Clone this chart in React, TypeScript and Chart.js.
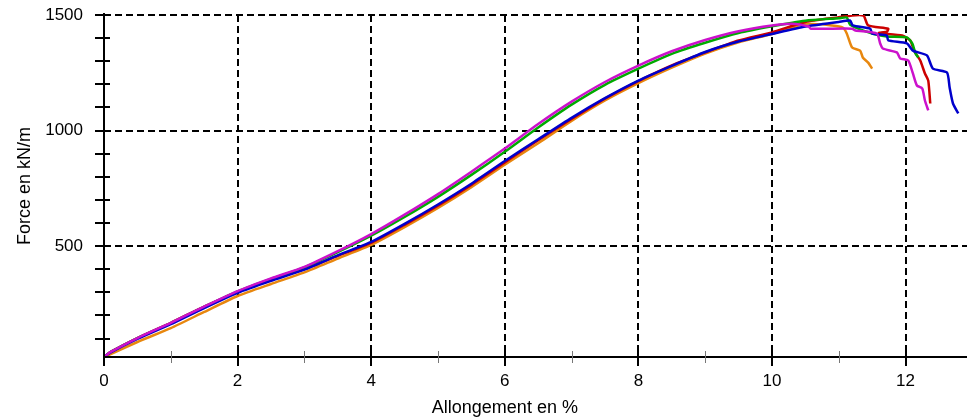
import React, { useEffect, useRef } from "react";
import { Chart, registerables } from "chart.js";

Chart.register(...registerables);

// ---- Axis ranges and ticks ----
const xMin = 0;
const xMax = 12.92;
const yMin = 20;
const yMax = 1500;
const xTickValues = [0, 1, 2, 3, 4, 5, 6, 7, 8, 9, 10, 11, 12];
const xTickLabels = ["0", "", "2", "", "4", "", "6", "", "8", "", "10", "", "12"];
const yTickValues = [100, 200, 300, 400, 500, 600, 700, 800, 900, 1000, 1100, 1200, 1300, 1400, 1500];
const yLabelled = [500, 1000, 1500];
const xTitle = "Allongement en %";
const yTitle = "Force en kN/m";

// ---- Series (x = Allongement %, y = Force kN/m) ----
const magentaX = [0, 0.1, 0.5, 1, 1.5, 2, 2.5, 3, 3.5, 4, 4.5, 5, 5.5, 6, 6.5, 7, 7.5, 8, 8.5, 9, 9.5, 10, 10.3, 10.55, 10.58, 11.2, 11.25, 11.57, 11.62, 11.66, 11.87, 11.92, 12.04, 12.11, 12.17, 12.25, 12.29, 12.34];
const magentaY = [20, 42, 102, 168, 238, 305, 360, 410, 478, 552, 636, 725, 822, 922, 1028, 1125, 1210, 1281, 1343, 1392, 1430, 1455, 1462, 1450, 1441, 1441, 1433, 1420, 1377, 1355, 1338, 1312, 1303, 1247, 1195, 1182, 1130, 1087];

const blueX = [0, 0.1, 0.5, 1, 1.5, 2, 2.5, 3, 3.5, 4, 4.5, 5, 5.5, 6, 6.5, 7, 7.5, 8, 8.5, 9, 9.5, 10, 10.5, 11, 11.17, 11.21, 11.47, 11.5, 11.72, 11.74, 12.02, 12.11, 12.32, 12.41, 12.62, 12.66, 12.71, 12.79];
const blueY = [20, 40, 98, 162, 232, 298, 350, 398, 460, 518, 596, 680, 770, 868, 962, 1055, 1140, 1216, 1280, 1340, 1385, 1418, 1450, 1470, 1476, 1455, 1441, 1420, 1411, 1390, 1377, 1346, 1325, 1268, 1251, 1186, 1117, 1074];

const greenX = [0, 0.1, 0.5, 1, 1.5, 2, 2.5, 3, 3.5, 4, 4.5, 5, 5.5, 6, 6.5, 7, 7.5, 8, 8.5, 9, 9.5, 10, 10.5, 11, 11.12, 11.17, 11.5, 11.72, 12.02, 12.1, 12.15, 12.19];
const greenY = [20, 42, 102, 167, 237, 304, 358, 408, 474, 545, 626, 713, 808, 908, 1013, 1112, 1198, 1268, 1332, 1380, 1422, 1451, 1475, 1486, 1489, 1458, 1420, 1407, 1403, 1377, 1333, 1316];

const redX = [0, 0.1, 0.5, 1, 1.5, 2, 2.5, 3, 3.5, 4, 4.5, 5, 5.5, 6, 6.5, 7, 7.5, 8, 8.5, 9, 9.5, 10, 10.5, 11, 11.2, 11.37, 11.44, 11.74, 11.72, 11.6, 11.95, 12.07, 12.11, 12.14, 12.22, 12.29, 12.34, 12.37];
const redY = [20, 42, 102, 168, 238, 302, 352, 400, 458, 514, 592, 675, 765, 862, 958, 1050, 1138, 1214, 1282, 1338, 1390, 1425, 1470, 1490, 1498, 1498, 1455, 1441, 1428, 1422, 1411, 1390, 1360, 1339, 1303, 1247, 1216, 1117];

const orangeX = [0, 0.1, 0.5, 1, 1.5, 2, 2.5, 3, 3.5, 4, 4.5, 5, 5.5, 6, 6.5, 7, 7.5, 8, 8.5, 9, 9.5, 10, 10.5, 10.9, 11.06, 11.12, 11.2, 11.32, 11.36, 11.44, 11.5];
const orangeY = [15, 32, 85, 145, 215, 284, 336, 386, 446, 505, 582, 665, 755, 852, 945, 1042, 1130, 1205, 1272, 1333, 1382, 1418, 1462, 1455, 1446, 1420, 1359, 1346, 1316, 1294, 1268];

const FONT = '"Liberation Sans", Arial, sans-serif';

function pts(xs: number[], ys: number[]) {
  return xs.map((x, i) => ({ x, y: ys[i] }));
}

const axesPlugin = {
  id: "axesPlugin",
  afterDraw(chart: any) {
    const { ctx, chartArea: a, scales } = chart;
    const xs = scales.x;
    const ys = scales.y;
    ctx.save();
    ctx.strokeStyle = "#000";
    ctx.lineWidth = 2;
    ctx.setLineDash([]);
    ctx.beginPath();
    ctx.moveTo(a.left, ys.getPixelForValue(yMax) - 2);
    ctx.lineTo(a.left, a.bottom);
    ctx.lineTo(a.right, a.bottom);
    ctx.stroke();
    // y ticks
    for (const v of yTickValues) {
      const py = Math.round(ys.getPixelForValue(v));
      ctx.beginPath();
      ctx.moveTo(a.left - 9, py);
      ctx.lineTo(a.left + 6, py);
      ctx.stroke();
    }
    // x ticks
    for (const v of xTickValues) {
      const px = Math.round(xs.getPixelForValue(v));
      ctx.beginPath();
      if (v % 2 === 0) {
        ctx.strokeStyle = "#000";
        ctx.lineWidth = 2;
        ctx.moveTo(px, a.bottom - 7);
        ctx.lineTo(px, a.bottom + 9);
      } else {
        ctx.strokeStyle = "#777";
        ctx.lineWidth = 1;
        ctx.moveTo(px + 0.5, a.bottom - 6);
        ctx.lineTo(px + 0.5, a.bottom + 6);
      }
      ctx.stroke();
    }
    // titles
    ctx.fillStyle = "#000";
    ctx.font = "18px " + FONT;
    ctx.textAlign = "center";
    ctx.textBaseline = "alphabetic";
    ctx.fillText(xTitle, a.left + (a.right - a.left) * 0.4645, 413);
    ctx.save();
    ctx.translate(30, (a.top + a.bottom) / 2);
    ctx.rotate(-Math.PI / 2);
    ctx.fillText(yTitle, 0, 0);
    ctx.restore();
    ctx.restore();
  },
};

export default function App() {
  const ref = useRef<HTMLCanvasElement | null>(null);
  useEffect(() => {
    if (!ref.current) return;
    const mk = (label: string, xs: number[], ys: number[], color: string) => ({
      label,
      data: pts(xs, ys),
      showLine: true,
      borderColor: color,
      backgroundColor: color,
      borderWidth: 2.5,
      pointRadius: 0,
      pointHoverRadius: 0,
      fill: false,
      tension: 0.2,
    });
    const chart = new Chart(ref.current, {
      type: "scatter",
      data: {
        datasets: [
          mk("Essai 5", magentaX, magentaY, "#CC11CC"),
          mk("Essai 3", blueX, blueY, "#0000CC"),
          mk("Essai 2", greenX, greenY, "#00AA00"),
          mk("Essai 1", redX, redY, "#CC0000"),
          mk("Essai 4", orangeX, orangeY, "#E8870E"),
        ],
      },
      options: {
        animation: false,
        responsive: false,
        devicePixelRatio: 1,
        layout: { padding: { top: 15, right: 8, left: 0, bottom: 0 } },
        plugins: { legend: { display: false }, tooltip: { enabled: false }, title: { display: false } },
        scales: {
          x: {
            type: "linear",
            min: xMin,
            max: xMax,
            afterBuildTicks: (s: any) => {
              s.ticks = xTickValues.map((v) => ({ value: v }));
            },
            afterFit: (s: any) => {
              s.height = 63;
              s.paddingLeft = 0;
              s.paddingRight = 0;
            },
            ticks: {
              autoSkip: false,
              maxRotation: 0,
              padding: 14,
              color: "#000",
              font: { family: FONT, size: 17 },
              callback: (v: any) => xTickLabels[xTickValues.indexOf(Number(v))] ?? "",
            },
            grid: {
              drawTicks: false,
              lineWidth: 2,
              color: (c: any) => (c.tick && c.tick.value % 2 === 0 && c.tick.value > 0 ? "#000" : "rgba(0,0,0,0)"),
            },
            border: { display: false, dash: [7, 4] },
          },
          y: {
            type: "linear",
            min: yMin,
            max: yMax,
            afterBuildTicks: (s: any) => {
              s.ticks = yTickValues.map((v) => ({ value: v }));
            },
            afterFit: (s: any) => {
              s.width = 104;
              s.paddingTop = 0;
              s.paddingBottom = 0;
            },
            ticks: {
              autoSkip: false,
              padding: 21,
              color: "#000",
              font: { family: FONT, size: 17 },
              callback: (v: any) => (yLabelled.includes(Number(v)) ? String(v) : ""),
            },
            grid: {
              drawTicks: false,
              lineWidth: 2,
              color: (c: any) => (c.tick && yLabelled.includes(c.tick.value) ? "#000" : "rgba(0,0,0,0)"),
            },
            border: { display: false, dash: [7, 4] },
          },
        },
      },
      plugins: [axesPlugin],
    } as any);
    return () => chart.destroy();
  }, []);
  return (
    <div style={{ position: "fixed", left: 0, top: 0, width: 975, height: 420, background: "#fff" }}>
      <canvas ref={ref} width={975} height={420} style={{ width: 975, height: 420, display: "block" }} />
    </div>
  );
}
